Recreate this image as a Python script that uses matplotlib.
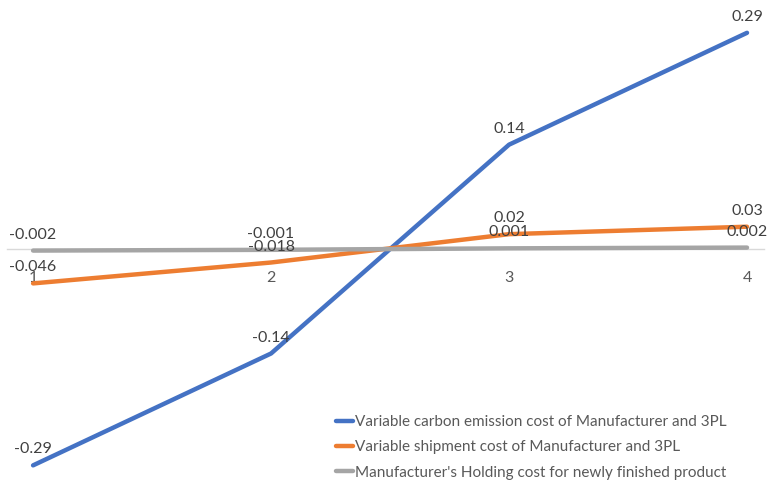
import numpy as np
import matplotlib.pyplot as plt

plt.rcParams['font.family'] = ['Lato', 'DejaVu Sans']

# categories and series
x = [1, 2, 3, 4]
x_labels = ['1', '2', '3', '4']
carbon = [-0.29, -0.14, 0.14, 0.29]
shipment = [-0.046, -0.018, 0.02, 0.03]
holding = [-0.002, -0.001, 0.001, 0.002]

names = ["Variable carbon emission cost of Manufacturer and 3PL",
         "Variable shipment cost of Manufacturer and 3PL",
         "Manufacturer's Holding cost for newly finished product"]
colors = ['#4472C4', '#ED7D31', '#A5A5A5']

fig = plt.figure(figsize=(7.67, 4.84), dpi=100)
ax = fig.add_axes([0, 0, 1, 1])
ax.set_xlim(0.861, 4.084)
ax.set_ylim(-0.315, 0.334)
ax.axis('off')

# category axis at zero
ax.plot([0.89, 4.07], [0, 0], color='#D9D9D9', lw=1, zorder=1)
for xi, lab in zip(x, x_labels):
    ax.annotate(lab, (xi, 0), xytext=(0, -21), textcoords='offset points',
                ha='center', va='center', fontsize=11.5, color='#595959')

for vals, name, c in zip([carbon, shipment, holding], names, colors):
    ax.plot(x, vals, color=c, lw=3.2, solid_capstyle='round', label=name, zorder=3)
    for xi, v in zip(x, vals):
        ax.annotate(f'{v:g}', (xi, v), xytext=(0, 11.5), textcoords='offset points',
                    ha='center', va='center', fontsize=11.5, color='#404040', zorder=4)

leg = ax.legend(loc='lower right', bbox_to_anchor=(0.955, -0.004), frameon=False,
                borderaxespad=0, fontsize=11, handlelength=1.15, handletextpad=0.1,
                labelspacing=0.75)
for t in leg.get_texts():
    t.set_color('#595959')

fig.savefig('out.png', dpi=100)
